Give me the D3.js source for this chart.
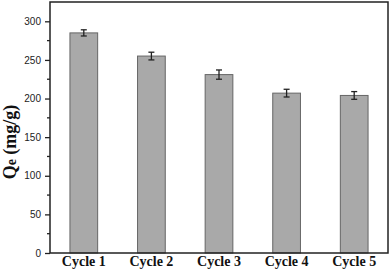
<!DOCTYPE html>
<html>
<head>
<meta charset="utf-8">
<script src="https://cdn.jsdelivr.net/npm/d3@7"></script>
<style>
  body { margin: 0; background: #fff; }
  svg { display: block; }
</style>
</head>
<body>
<div id="chart"></div>
<script>
// --- Data ---
const cycles = ["Cycle 1", "Cycle 2", "Cycle 3", "Cycle 4", "Cycle 5"];
const qe = [285, 255, 231, 207, 204];
const qeErr = [4, 5, 6, 5, 5];
const yTicks = [0, 50, 100, 150, 200, 250, 300];
const yMinorTicks = [25, 75, 125, 175, 225, 275];

const W = 392, H = 271;
const margin = {top: 2, right: 4, bottom: 18, left: 50};
const width = W - margin.left - margin.right;
const height = H - margin.top - margin.bottom;

const svg = d3.select("#chart").append("svg")
    .attr("width", W)
    .attr("height", H)
  .append("g")
    .attr("transform", `translate(${margin.left},${margin.top})`);

const x = d3.scaleBand().domain(cycles).range([0, width]).paddingInner(0.59).paddingOuter(0.295);
const y = d3.scaleLinear().domain([0, 325]).range([height, 0]);

const rows = cycles.map((c, i) => ({c, v: qe[i], e: qeErr[i]}));

// bars
svg.selectAll("rect.bar")
  .data(rows)
  .enter().append("rect")
    .attr("class", "bar")
    .attr("x", d => x(d.c))
    .attr("y", d => y(d.v))
    .attr("width", x.bandwidth())
    .attr("height", d => y(0) - y(d.v))
    .attr("fill", "#a9a9a9")
    .attr("stroke", "#666")
    .attr("stroke-width", 1);

// error bars
const eb = svg.selectAll("g.err").data(rows).enter().append("g")
    .attr("class", "err")
    .attr("transform", d => `translate(${x(d.c) + x.bandwidth() / 2},0)`)
    .attr("stroke", "#222")
    .attr("stroke-width", 1.3);
eb.append("line").attr("y1", d => y(d.v + d.e)).attr("y2", d => y(d.v - d.e));
eb.append("line").attr("x1", -3).attr("x2", 3).attr("y1", d => y(d.v + d.e)).attr("y2", d => y(d.v + d.e));
eb.append("line").attr("x1", -3).attr("x2", 3).attr("y1", d => y(d.v - d.e)).attr("y2", d => y(d.v - d.e));

// y axis
const yAxis = svg.append("g")
    .call(d3.axisLeft(y).tickValues(yTicks).tickSize(5).tickPadding(4));
yAxis.select(".domain").remove();
yAxis.selectAll("line").attr("stroke", "#222").attr("stroke-width", 1.3);
yAxis.selectAll("text")
    .style("font-family", "Arial, 'Liberation Sans', sans-serif")
    .style("font-size", "10px")
    .attr("fill", "#222");

svg.selectAll("line.minor")
  .data(yMinorTicks)
  .enter().append("line")
    .attr("class", "minor")
    .attr("x1", -3).attr("x2", 0)
    .attr("y1", d => y(d)).attr("y2", d => y(d))
    .attr("stroke", "#222").attr("stroke-width", 1.3);

// x labels
svg.selectAll("text.cyc")
  .data(cycles)
  .enter().append("text")
    .attr("class", "cyc")
    .attr("x", d => x(d) + x.bandwidth() / 2)
    .attr("y", height + 13)
    .attr("text-anchor", "middle")
    .style("font-family", "'Liberation Serif', 'Times New Roman', serif")
    .style("font-weight", "bold")
    .style("font-size", "14px")
    .attr("fill", "#111")
    .text(d => d);

// frame
svg.append("rect")
    .attr("width", width).attr("height", height)
    .attr("fill", "none")
    .attr("stroke", "#222")
    .attr("stroke-width", 1.5);

// y label
const yl = svg.append("text")
    .attr("transform", `translate(${16 - margin.left},${142 - margin.top}) rotate(-90)`)
    .attr("text-anchor", "middle")
    .style("font-family", "'Liberation Serif', 'Times New Roman', serif")
    .style("font-weight", "bold")
    .style("font-size", "18px")
    .attr("fill", "#111");
yl.append("tspan").text("Q");
yl.append("tspan").style("font-size", "14px").text("e");
yl.append("tspan").text(" (mg/g)");
</script>
</body>
</html>
